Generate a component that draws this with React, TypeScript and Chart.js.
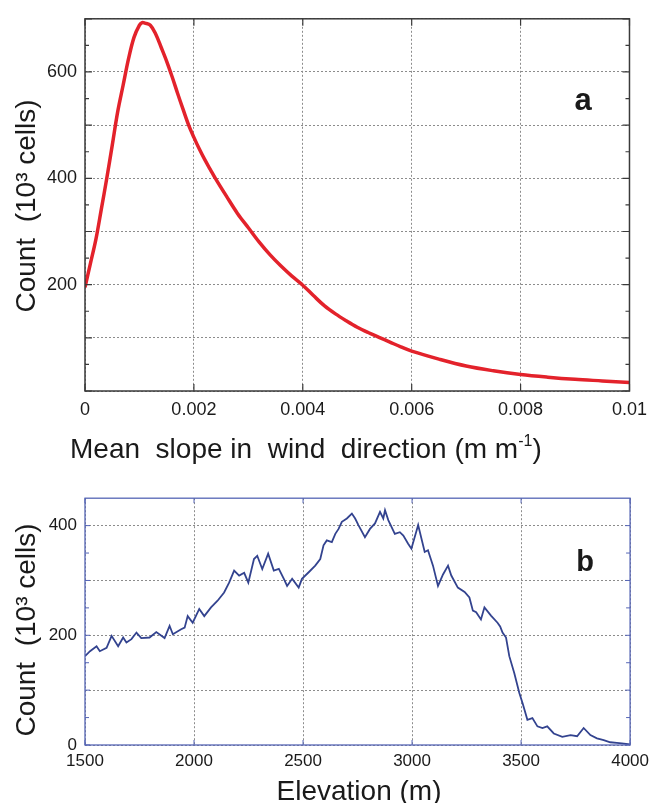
import React, { useEffect, useRef } from "react";
import { Chart, registerables } from "chart.js";

Chart.register(...registerables);

// ---------- Panel a: mean slope in wind direction ----------
const slopeValues = [
  0, 0.0001, 0.0002, 0.0003, 0.0004, 0.0005, 0.0006, 0.0007, 0.0008, 0.0009,
  0.001, 0.00105, 0.0011, 0.0012, 0.0013, 0.0014, 0.0015, 0.0016, 0.0017, 0.0018,
  0.0019, 0.002, 0.0021, 0.0022, 0.0023, 0.0024, 0.0026, 0.0028, 0.003, 0.0032,
  0.0034, 0.0036, 0.0038, 0.004, 0.0042, 0.0044, 0.0046, 0.0048, 0.005, 0.0052,
  0.0054, 0.0056, 0.0058, 0.006, 0.0065, 0.007, 0.0075, 0.008, 0.0085, 0.009,
  0.0095, 0.01,
];
const slopeCounts = [
  195, 240, 285, 342, 400, 462, 525, 575, 625, 665,
  688, 693, 692, 688, 671, 646, 620, 591, 560, 530,
  501, 477, 455, 435, 417, 399, 366, 334, 307, 280,
  256, 235, 216, 199, 179, 160, 145, 132, 120, 110,
  101, 92, 83, 75, 60, 47, 38, 31, 26, 22,
  19, 16,
];
const slopeTickLabels = ["0", "0.002", "0.004", "0.006", "0.008", "0.01"];
const countTickLabelsA = [200, 400, 600];

// ---------- Panel b: elevation ----------
const elevations = [
  1500, 1523, 1553, 1568, 1599, 1622, 1652, 1675, 1690, 1713,
  1736, 1758, 1796, 1827, 1865, 1888, 1903, 1941, 1957, 1971,
  1994, 2024, 2047, 2078, 2108, 2138, 2161, 2184, 2207, 2230,
  2249, 2275, 2290, 2313, 2340, 2366, 2389, 2412, 2427, 2450,
  2480, 2495, 2526, 2556, 2579, 2594, 2609, 2632, 2648, 2663,
  2678, 2701, 2724, 2739, 2754, 2784, 2807, 2830, 2853, 2868,
  2876, 2891, 2921, 2944, 2960, 2982, 2997, 3028, 3058, 3073,
  3096, 3119, 3142, 3165, 3180, 3210, 3241, 3263, 3279, 3294,
  3316, 3332, 3362, 3392, 3404, 3415, 3431, 3446, 3469, 3492,
  3507, 3529, 3552, 3575, 3598, 3620, 3650, 3689, 3727, 3757,
  3787, 3818, 3848, 3879, 3909, 3939, 3962, 4000,
];
const elevationCounts = [
  162, 171, 180, 171, 177, 199, 180, 196, 187, 193,
  205, 195, 196, 206, 195, 217, 202, 211, 214, 235,
  223, 248, 235, 251, 263, 278, 296, 318, 309, 314,
  296, 339, 345, 321, 349, 318, 321, 303, 290, 303,
  287, 303, 315, 327, 339, 364, 373, 370, 385, 394,
  407, 413, 422, 413, 401, 379, 394, 404, 425, 413,
  428, 410, 385, 388, 382, 367, 358, 401, 352, 355,
  327, 290, 311, 327, 309, 287, 279, 269, 245, 242,
  229, 251, 236, 223, 216, 205, 196, 162, 131, 95,
  76, 46, 49, 34, 31, 34, 21, 15, 18, 16,
  31, 18, 12, 9, 5, 4, 3, 1,
];
const elevationTickLabels = [1500, 2000, 2500, 3000, 3500, 4000];
const countTickLabelsB = [0, 200, 400];

const FONT = "'Liberation Sans', Arial, Helvetica, sans-serif";

const framePlugin = {
  id: "frameTicks",
  afterDraw(chart: any, _args: any, opts: any) {
    const { ctx, chartArea: a, scales } = chart;
    const xs = scales.x;
    const ys = scales.y;
    ctx.save();
    ctx.strokeStyle = opts.color;
    ctx.lineWidth = opts.width;
    ctx.beginPath();
    xs.ticks.forEach((t: any) => {
      const px = xs.getPixelForValue(t.value);
      ctx.moveTo(px, a.bottom);
      ctx.lineTo(px, a.bottom - opts.major);
      ctx.moveTo(px, a.top);
      ctx.lineTo(px, a.top + opts.major);
    });
    ys.ticks.forEach((t: any, i: number) => {
      const py = ys.getPixelForValue(t.value);
      ctx.moveTo(a.left, py);
      ctx.lineTo(a.left + opts.major, py);
      ctx.moveTo(a.right, py);
      ctx.lineTo(a.right - opts.major, py);
      const next = ys.ticks[i + 1];
      if (next) {
        const pm = ys.getPixelForValue((t.value + next.value) / 2);
        ctx.moveTo(a.left, pm);
        ctx.lineTo(a.left + opts.minor, pm);
        ctx.moveTo(a.right, pm);
        ctx.lineTo(a.right - opts.minor, pm);
      }
    });
    ctx.stroke();
    ctx.lineWidth = opts.frameWidth;
    ctx.strokeRect(a.left, a.top, a.right - a.left, a.bottom - a.top);
    ctx.restore();
  },
};

const textPlugin = {
  id: "panelText",
  afterDraw(chart: any, _args: any, opts: any) {
    const { ctx } = chart;
    ctx.save();
    ctx.fillStyle = "#1a1a1a";
    (opts.items || []).forEach((it: any) => {
      ctx.save();
      ctx.font = it.font;
      ctx.textAlign = it.align || "left";
      ctx.textBaseline = it.baseline || "alphabetic";
      ctx.translate(it.x, it.y);
      if (it.rotate) ctx.rotate(it.rotate);
      let x = 0;
      if (it.parts) {
        ctx.textAlign = "left";
        let total = 0;
        it.parts.forEach((p: any) => {
          ctx.font = p.font || it.font;
          total += ctx.measureText(p.text).width;
        });
        if (it.align === "center") x = -total / 2;
        it.parts.forEach((p: any) => {
          ctx.font = p.font || it.font;
          ctx.fillText(p.text, x, p.dy || 0);
          x += ctx.measureText(p.text).width;
        });
      } else {
        ctx.fillText(it.text, 0, 0);
      }
      ctx.restore();
    });
    ctx.restore();
  },
};

const gridCommon = { color: "#8c8c8c", lineWidth: 1, drawTicks: false };

function fmtSlope(v: number) {
  const s = String(+v.toFixed(4));
  return slopeTickLabels.includes(s) ? s : "";
}

export default function App() {
  const topRef = useRef<HTMLCanvasElement>(null);
  const botRef = useRef<HTMLCanvasElement>(null);

  useEffect(() => {
    const tickFont = { family: FONT, size: 18 };
    const chartA = new Chart(topRef.current as HTMLCanvasElement, {
      type: "line",
      data: {
        datasets: [
          {
            data: slopeValues.map((x, i) => ({ x, y: slopeCounts[i] })),
            borderColor: "#e3222b",
            borderWidth: 3.5,
            pointRadius: 0,
            tension: 0.35,
            fill: false,
          },
        ],
      },
      options: {
        animation: false,
        responsive: false,
        maintainAspectRatio: false,
        devicePixelRatio: 1,
        layout: { padding: { left: 0, top: 14, right: 21, bottom: 0 } },
        plugins: {
          legend: { display: false },
          tooltip: { enabled: false },
          frameTicks: { color: "#3a3a3a", width: 1.2, frameWidth: 1.5, major: 7, minor: 4 },
          panelText: {
            items: [
              {
                text: "Count  (10\u00b3 cells)",
                font: `28px ${FONT}`,
                x: 27,
                y: 206,
                rotate: -Math.PI / 2,
                align: "center",
                baseline: "middle",
              },
              {
                x: 70,
                y: 458,
                font: `28px ${FONT}`,
                parts: [
                  { text: "Mean  slope in  wind  direction (m m" },
                  { text: "-1", font: `16px ${FONT}`, dy: -12 },
                  { text: ")" },
                ],
              },
              { text: "a", font: `bold 31px ${FONT}`, x: 583, y: 101, align: "center", baseline: "middle" },
            ],
          },
        } as any,
        scales: {
          x: {
            type: "linear",
            min: 0,
            max: 0.01,
            afterFit: (s: any) => {
              s.height = 89;
            },
            ticks: {
              stepSize: 0.002,
              padding: 8,
              color: "#1a1a1a",
              font: tickFont,
              maxRotation: 0,
              autoSkip: false,
              callback: (v: any) => fmtSlope(Number(v)),
            },
            grid: gridCommon,
            border: { display: false, dash: [2, 2] },
          },
          y: {
            type: "linear",
            min: 0,
            max: 700,
            afterFit: (s: any) => {
              s.width = 85;
            },
            ticks: {
              stepSize: 100,
              padding: 8,
              color: "#1a1a1a",
              font: tickFont,
              callback: (v: any) => (countTickLabelsA.includes(Number(v)) ? String(v) : ""),
            },
            grid: gridCommon,
            border: { display: false, dash: [2, 2] },
          },
        },
      },
      plugins: [framePlugin, textPlugin],
    });

    const tickFontB = { family: FONT, size: 17 };
    const chartB = new Chart(botRef.current as HTMLCanvasElement, {
      type: "line",
      data: {
        datasets: [
          {
            data: elevations.map((x, i) => ({ x, y: elevationCounts[i] })),
            borderColor: "#33438f",
            borderWidth: 1.8,
            pointRadius: 0,
            tension: 0,
            fill: false,
          },
        ],
      },
      options: {
        animation: false,
        responsive: false,
        maintainAspectRatio: false,
        devicePixelRatio: 1,
        layout: { padding: { left: 0, top: 17, right: 21, bottom: 0 } },
        plugins: {
          legend: { display: false },
          tooltip: { enabled: false },
          frameTicks: { color: "#5565b5", width: 1, frameWidth: 1.3, major: 5, minor: 4 },
          panelText: {
            items: [
              {
                text: "Count  (10\u00b3 cells)",
                font: `28px ${FONT}`,
                x: 27,
                y: 150,
                rotate: -Math.PI / 2,
                align: "center",
                baseline: "middle",
              },
              { text: "Elevation (m)", font: `28px ${FONT}`, x: 359, y: 320, align: "center" },
              { text: "b", font: `bold 29px ${FONT}`, x: 585, y: 83, align: "center", baseline: "middle" },
            ],
          },
        } as any,
        scales: {
          x: {
            type: "linear",
            min: 1500,
            max: 4000,
            afterFit: (s: any) => {
              s.height = 58;
            },
            ticks: {
              stepSize: 500,
              padding: 6,
              color: "#1a1a1a",
              font: tickFontB,
              maxRotation: 0,
              autoSkip: false,
              callback: (v: any) => (elevationTickLabels.includes(Number(v)) ? String(v) : ""),
            },
            grid: gridCommon,
            border: { display: false, dash: [2, 2] },
          },
          y: {
            type: "linear",
            min: 0,
            max: 450,
            afterFit: (s: any) => {
              s.width = 85;
            },
            ticks: {
              stepSize: 100,
              includeBounds: false,
              padding: 8,
              color: "#1a1a1a",
              font: tickFontB,
              callback: (v: any) => (countTickLabelsB.includes(Number(v)) ? String(v) : ""),
            },
            grid: gridCommon,
            border: { display: false, dash: [2, 2] },
          },
        },
      },
      plugins: [framePlugin, textPlugin],
    });

    return () => {
      chartA.destroy();
      chartB.destroy();
    };
  }, []);

  return (
    <div style={{ position: "absolute", left: 0, top: 0, width: 655, height: 803, background: "#fff" }}>
      <canvas ref={topRef} width={655} height={480} style={{ position: "absolute", left: 0, top: 0, display: "block" }} />
      <canvas ref={botRef} width={655} height={323} style={{ position: "absolute", left: 0, top: 480, display: "block" }} />
    </div>
  );
}
